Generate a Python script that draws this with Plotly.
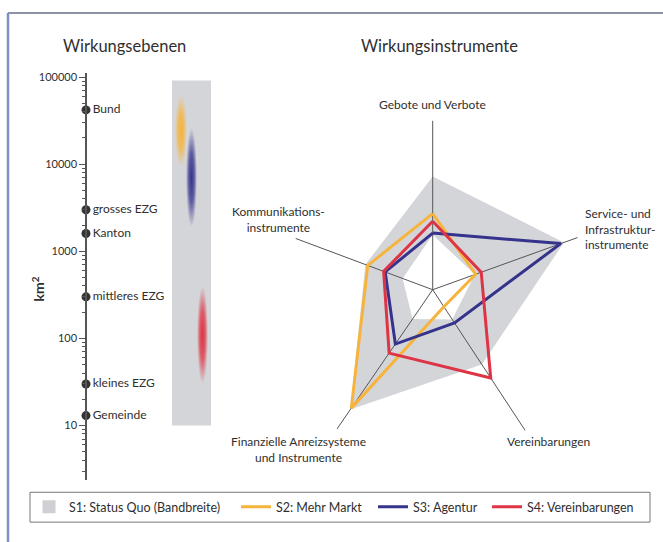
import numpy as np
import plotly.graph_objects as go

W, H = 663, 542

# ---------------- data: Wirkungsebenen (left) ----------------
level_names = ["Bund", "grosses EZG", "Kanton", "mittleres EZG", "kleines EZG", "Gemeinde"]
level_km2 = [42000, 3000, 1600, 300, 30, 13]
y_tickvals = [10, 100, 1000, 10000, 100000]
y_ticktext = ["10", "100", "1000", "10000", "100000"]

band_names = ["S1: Status Quo (Bandbreite)", "S2: Mehr Markt", "S3: Agentur", "S4: Vereinbarungen"]
band_low_km2 = [10, 9300, 1900, 30]
band_high_km2 = [91000, 63000, 26000, 400]

# ---------------- data: Wirkungsinstrumente (radar) ----------------
instruments = ["Gebote und Verbote", "Service- und Infrastrukturinstrumente", "Vereinbarungen",
               "Finanzielle Anreizsysteme und Instrumente", "Kommunikationsinstrumente"]
s1_outer = [6.7, 8.25, 5.3, 8.6, 4.25]
s1_inner = [3.25, 2.65, 2.1, 2.1, 1.9]
s2_markt = [4.5, 2.7, 1.2, 8.5, 4.1]
s3_agentur = [3.35, 8.05, 2.35, 3.9, 3.0]
s4_vereinb = [4.05, 3.05, 6.25, 4.55, 3.1]

# ---------------- styling / layout constants ----------------
axis_angle = {instruments[0]: 90, instruments[1]: 19.8, instruments[2]: -56.7,
              instruments[3]: -124.5, instruments[4]: 159.5}
spoke_len = [10.0, 9.1, 9.95, 10.05, 8.65]
C_GREY = "#d4d5d9"
C_OR = "#f7b43c"
C_BL = "#36338c"
C_RD = "#dd3545"
C_TXT = "#2f2f2f"
FONT = "Lato"

band_colors = [C_GREY, C_OR, C_BL, C_RD]
band_x = [(86, 125), (89, 101), (100, 111), (111, 122)]
legend_ids = ["legend", "legend2", "legend3", "legend4"]
legend_x = [29, 236, 373, 487]


def px(x):
    return x / W


def py(y):
    return 1 - y / H


fig = go.Figure()

# ---- left: gradient band column (on linear y2 aligned with log y) ----
for i, (name, lo, hi) in enumerate(zip(band_names, band_low_km2, band_high_km2)):
    x0, x1 = band_x[i]
    l0, l1 = np.log10(lo), np.log10(hi)
    if i == 0:
        fig.add_trace(go.Scatter(x=[x0, x1, x1, x0, x0], y=[l0, l0, l1, l1, l0], mode="lines",
                                 fill="toself", fillcolor=C_GREY, line=dict(width=0),
                                 xaxis="x", yaxis="y2", showlegend=False, hoverinfo="skip"))
    else:
        c = band_colors[i]
        r_, g_, b_ = int(c[1:3], 16), int(c[3:5], 16), int(c[5:7], 16)
        fig.add_trace(go.Scatter(x=[x0, x1, x1, x0, x0], y=[l0, l0, l1, l1, l0], mode="lines",
                                 fill="toself", line=dict(width=0),
                                 fillgradient=dict(type="radial", colorscale=[
                                     [0, f"rgba({r_},{g_},{b_},1)"],
                                     [0.5, f"rgba({r_},{g_},{b_},0.75)"],
                                     [1, f"rgba({r_},{g_},{b_},0)"]]),
                                 xaxis="x", yaxis="y2", showlegend=False, hoverinfo="skip"))

# ---- left: level markers ----
fig.add_trace(go.Scatter(x=[0] * len(level_km2), y=level_km2, mode="markers+text",
                         text=level_names, textposition="middle right",
                         textfont=dict(size=12, color=C_TXT, family=FONT),
                         marker=dict(size=9, color="#333333"), cliponaxis=False,
                         xaxis="x", yaxis="y", showlegend=False, hoverinfo="skip"))


# ---- radar ----
def closed(vals):
    th = [axis_angle[c] for c in instruments]
    return list(vals) + [vals[0]], th + [th[0]]


ro, to = closed(s1_outer)
ri, ti = closed(s1_inner)
fig.add_trace(go.Scatterpolar(r=ro + [None] + ri[::-1], theta=to + [None] + ti[::-1],
                              mode="lines", fill="toself", fillcolor=C_GREY,
                              line=dict(width=0, color=C_GREY), showlegend=False,
                              hoverinfo="skip", connectgaps=False))
# legend entry for S1
fig.add_trace(go.Scatterpolar(r=[None], theta=[None], mode="markers", name=band_names[0],
                              legend=legend_ids[0],
                              marker=dict(symbol="square", size=13, color="#cfd0d3")))

# spokes
for c, L in zip(instruments, spoke_len):
    fig.add_trace(go.Scatterpolar(r=[0, L], theta=[axis_angle[c]] * 2, mode="lines",
                                  line=dict(color="#555555", width=1), showlegend=False,
                                  hoverinfo="skip"))

for k, (vals, col) in enumerate([(s2_markt, C_OR), (s3_agentur, C_BL), (s4_vereinb, C_RD)]):
    r, t = closed(vals)
    fig.add_trace(go.Scatterpolar(r=r, theta=t, mode="lines", name=band_names[k + 1],
                                  legend=legend_ids[k + 1], line=dict(color=col, width=3)))

legends = {}
for lid, lx in zip(legend_ids, legend_x):
    legends[lid] = dict(orientation="h", x=px(lx), y=py(507), xanchor="left", yanchor="middle",
                        bgcolor="rgba(0,0,0,0)", borderwidth=0,
                        font=dict(size=12.5, color=C_TXT, family=FONT), itemwidth=30)

fig.update_layout(
    width=W, height=H, margin=dict(l=0, r=0, t=0, b=0),
    paper_bgcolor="white", plot_bgcolor="rgba(0,0,0,0)",
    font=dict(family=FONT, color=C_TXT, size=12),
    xaxis=dict(domain=[0, 1], range=[-86, W - 86], visible=False, fixedrange=True),
    yaxis=dict(type="log", domain=[py(480), py(70)], range=[0.371, 5.051],
               anchor="free", position=px(86), showline=True, linecolor="#555555",
               linewidth=1.5, ticks="outside", ticklen=6, tickcolor="#555555",
               tickmode="array", tickvals=y_tickvals, ticktext=y_ticktext,
               showgrid=False, zeroline=False,
               tickfont=dict(size=11, color=C_TXT),
               minor=dict(ticks="outside", ticklen=3, tickcolor="#555555", dtick="D1",
                          showgrid=False)),
    yaxis2=dict(overlaying="y", range=[0.371, 5.051], visible=False, anchor="x"),
    polar=dict(domain=dict(x=[px(432.7 - 170), px(432.7 + 170)],
                           y=[py(288.3 + 170), py(288.3 - 170)]),
               bgcolor="rgba(0,0,0,0)",
               radialaxis=dict(range=[0, 10], visible=False),
               angularaxis=dict(visible=False, rotation=0, direction="counterclockwise",
                                thetaunit="degrees")),
    showlegend=True,
    **legends,
)

shapes = [
    dict(type="line", xref="paper", yref="paper", x0=px(8), x1=1, y0=py(10), y1=py(10),
         line=dict(color="#8d93a6", width=2)),
    dict(type="line", xref="paper", yref="paper", x0=px(8), x1=px(8), y0=py(10), y1=0,
         line=dict(color="#7f8ec6", width=2.5)),
    dict(type="rect", xref="paper", yref="paper", x0=px(30), x1=px(650), y0=py(522), y1=py(492),
         line=dict(color="#777777", width=1)),
]
fig.update_layout(shapes=shapes)

ann = [
    dict(text="Wirkungsebenen", x=px(124), y=py(43), font=dict(size=16.5)),
    dict(text="Wirkungsinstrumente", x=px(439), y=py(43), font=dict(size=16.5)),
    dict(text="<b>km<sup>2</sup></b>", x=px(38), y=py(288), textangle=-90, font=dict(size=14)),
    dict(text="Gebote und Verbote", x=px(432), y=py(102)),
    dict(text="Kommunikations-<br>instrumente", x=px(278), y=py(218)),
    dict(text="Service- und<br>Infrastruktur-<br>instrumente", x=px(583), y=py(227),
         xanchor="left", align="left"),
    dict(text="Vereinbarungen", x=px(548), y=py(441)),
    dict(text="Finanzielle Anreizsysteme<br>und Instrumente", x=px(298), y=py(449)),
]
for a in ann:
    a.setdefault("xanchor", "center")
    a.setdefault("yanchor", "middle")
    a.setdefault("font", dict(size=12))
    a["font"].setdefault("color", C_TXT)
    a["font"].setdefault("family", FONT)
    fig.add_annotation(xref="paper", yref="paper", showarrow=False, **a)

fig.write_html("out.html", config={"displayModeBar": False},
               post_script="document.body.style.margin='0px';")
